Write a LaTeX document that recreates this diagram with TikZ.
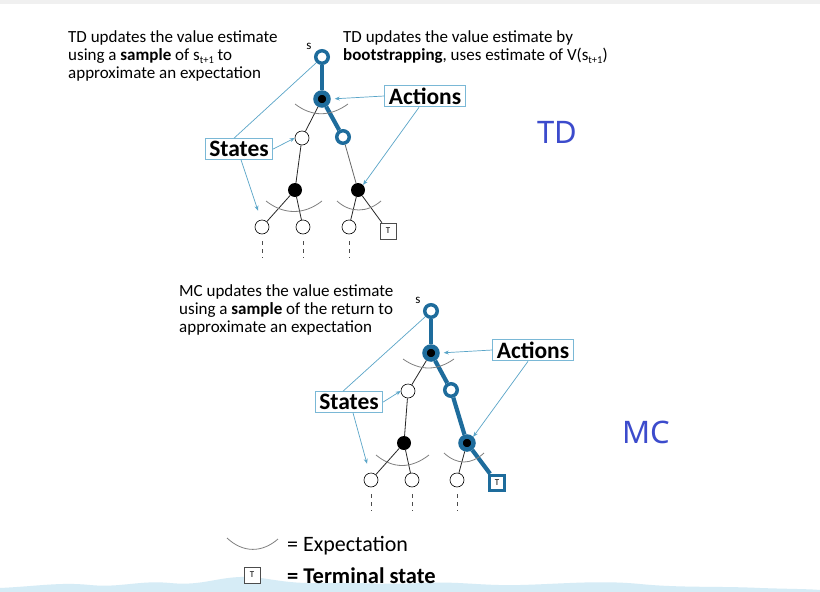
\documentclass[tikz,border=0pt]{standalone}
\usepackage{fontspec}
\setmainfont{Carlito}
\newfontfamily\labfont{Noto Sans}
\usetikzlibrary{arrows.meta,calc}
\definecolor{tdblue}{HTML}{1E6C9C}
\definecolor{callline}{HTML}{5AA5C8}
\definecolor{callbox}{HTML}{7AB8D6}
\definecolor{tagblue}{HTML}{3C4BCC}
\definecolor{wave}{HTML}{D6ECF6}
\newcommand{\subtp}{\raisebox{-3.5pt}{\fontsize{10.5}{10.5}\selectfont t+1}}
\tikzset{
  st/.style={circle,draw=black,fill=white,line width=0.6pt,minimum size=14pt,inner sep=0pt},
  ac/.style={circle,fill=black,minimum size=14pt,inner sep=0pt},
  bst/.style={circle,draw=tdblue,fill=white,line width=3.5pt,minimum size=12.5pt,inner sep=0pt},
  bac/.style={circle,fill=black,draw=tdblue,line width=4.5pt,minimum size=13pt,inner sep=0pt},
  term/.style={draw=black!70,fill=white,line width=0.6pt,minimum size=16pt,inner sep=0pt,font=\fontsize{9}{9}\selectfont},
  bterm/.style={term,draw=tdblue,line width=3.5pt,minimum size=15pt},
  lbl/.style={draw=callbox,line width=1pt,fill=white,font=\bfseries\fontsize{23.5}{24}\selectfont,inner xsep=4pt,inner ysep=2.5pt},
  callout/.style={draw=callline,line width=0.7pt,-{Stealth[length=5pt,width=4pt]}},
  callplain/.style={draw=callline,line width=0.7pt},
  expect/.style={draw=gray,line width=0.8pt},
  thinedge/.style={draw=black!85,line width=0.8pt},
  thickedge/.style={draw=tdblue,line width=4.2pt},
  dots/.style={draw=black!70,line width=0.7pt,dash pattern=on 4pt off 4pt},
  txt/.style={anchor=north west,align=left,font=\fontsize{17}{18}\selectfont,inner sep=0pt},
  tag/.style={anchor=base west,text=tagblue,font=\labfont\fontsize{31}{31}\selectfont,inner sep=0pt},
  slab/.style={font=\fontsize{13}{13}\selectfont,inner sep=0pt}
}
\begin{document}
\begin{tikzpicture}[x=1pt,y=-1pt]
\useasboundingbox (0,0) rectangle (820,592);
\fill[white] (0,0) rectangle (820,592);
\fill[black!6] (0,0) rectangle (820,4);
% bottom wave
\fill[wave] (0,592) -- (0,588) .. controls (40,586) and (60,582) .. (90,585)
  .. controls (120,588) and (140,580) .. (170,583) .. controls (200,586) and (215,578) .. (240,577)
  .. controls (265,576) and (280,584) .. (320,583) .. controls (360,582) and (380,585) .. (420,583)
  .. controls (460,581) and (480,586) .. (520,585) .. controls (560,584) and (600,580) .. (640,584)
  .. controls (680,588) and (720,586) .. (760,588) .. controls (790,589) and (810,589) .. (820,590)
  -- (820,592) -- cycle;

% ================= TD =================
\node[txt] (tdl) at (68,30) {TD updates the value estimate\\using a \textbf{sample} of s\subtp\ to\\approximate an expectation};
\node[txt] (tdr) at (343,30) {TD updates the value estimate by\\\textbf{bootstrapping}, uses estimate of V(s\subtp)};
\node[tag] (tdtag) at (537,143) {TD};

\node[bst] (r) at (322,57) {};
\node[slab] (rs) at (309,46) {s};
\node[bac] (a1) at (322,99) {};
\node[st] (sl) at (302,138) {};
\node[bst] (sr) at (343,137) {};
\node[ac] (al) at (295,190) {};
\node[ac] (ar) at (358,190) {};
\node[st] (l1) at (262,227) {};
\node[st] (l2) at (303,227) {};
\node[st] (l3) at (349,227) {};
\node[term] (t1) at (388,231) {T};

\draw[thickedge] (r) -- (a1);
\draw[thickedge] (a1) -- (sr);
\draw[thinedge] (a1) -- (sl);
\draw[thinedge] (sl) -- (al);
\draw[thinedge,black!60] (sr) -- (ar);
\draw[thinedge] (al) -- (l1);
\draw[thinedge] (al) -- (l2);
\draw[thinedge] (ar) -- (l3);
\draw[thinedge] (ar) -- (t1);

\draw[expect] (295,104) .. controls (312,117) and (330,117) .. (348,104);
\draw[expect] (266,201) .. controls (284,215) and (304,215) .. (322,201);
\draw[expect] (337,201) .. controls (350,213) and (367,213) .. (381,201);

\draw[dots] ($(l1.south)+(0,7)$) -- ($(l1.south)+(0,24)$);
\draw[dots] ($(l2.south)+(0,7)$) -- ($(l2.south)+(0,24)$);
\draw[dots] ($(l3.south)+(0,7)$) -- ($(l3.south)+(0,24)$);

\node[lbl] (act1) at (425,96) {Actions};
\node[lbl] (sta1) at (239,149) {States};

\draw[callout,shorten >=4pt] (act1.west) -- (a1.east);
\draw[callout] ([xshift=-6pt]act1.south) -- (ar.north east);
\draw[callplain] ([xshift=-5pt]sta1.north) -- (r.south west);
\draw[callout] (sta1.east) -- (sl.west);
\draw[callout] ([xshift=2pt]sta1.south) -- ($(l1.north)+(-4,-9)$);

% ================= MC =================
\node[txt] (mcl) at (179,284) {MC updates the value estimate\\using a \textbf{sample} of the return to\\approximate an expectation};
\node[tag] (mctag) at (622,443) {MC};

\node[bst] (mr) at (431,311) {};
\node[slab] (mrs) at (418,300) {s};
\node[bac] (ma1) at (431,353) {};
\node[st] (msl) at (408,391) {};
\node[bst] (msr) at (451,390) {};
\node[ac] (mal) at (404,443) {};
\node[bac] (mar) at (467,443) {};
\node[st] (ml1) at (371,480) {};
\node[st] (ml2) at (412,480) {};
\node[st] (ml3) at (457,480) {};
\node[bterm] (mt) at (497,483) {T};

\draw[thickedge] (mr) -- (ma1);
\draw[thickedge] (ma1) -- (msr);
\draw[thickedge] (msr) -- (mar);
\draw[thickedge] (mar) -- (mt);
\draw[thinedge] (ma1) -- (msl);
\draw[thinedge] (msl) -- (mal);
\draw[thinedge] (mal) -- (ml1);
\draw[thinedge] (mal) -- (ml2);
\draw[thinedge] (mar) -- (ml3);

\draw[expect] (403,359) .. controls (420,371) and (437,371) .. (454,359);
\draw[expect] (376,455) .. controls (393,469) and (411,469) .. (429,455);
\draw[expect] (444,453) .. controls (457,465) and (471,465) .. (484,453);

\draw[dots] ($(ml1.south)+(0,7)$) -- ($(ml1.south)+(0,24)$);
\draw[dots] ($(ml2.south)+(0,7)$) -- ($(ml2.south)+(0,24)$);
\draw[dots] ($(ml3.south)+(0,7)$) -- ($(ml3.south)+(0,24)$);

\node[lbl] (act2) at (533,350) {Actions};
\node[lbl] (sta2) at (349,402) {States};

\draw[callout,shorten >=4pt] (act2.west) -- (ma1.east);
\draw[callout] ([xshift=-5pt]act2.south) -- (mar.north east);
\draw[callplain] ([xshift=-6pt]sta2.north) -- (mr.south west);
\draw[callout] (sta2.east) -- (msl.west);
\draw[callout] ([xshift=4pt]sta2.south) -- ($(ml1.north)+(-4,-9)$);

% ================= legend =================
\draw[expect] (227,538) .. controls (243,553) and (262,553) .. (278,539) coordinate (lgarc);
\node[anchor=base west,inner sep=0pt,font=\fontsize{22}{22}\selectfont] (lg1) at (287,551) {= Expectation};
\node[term] (lgt) at (252,575) {T};
\node[anchor=base west,inner sep=0pt,font=\bfseries\fontsize{22.5}{22.5}\selectfont] (lg2) at (287,583) {= Terminal state};
\end{tikzpicture}
\end{document}
